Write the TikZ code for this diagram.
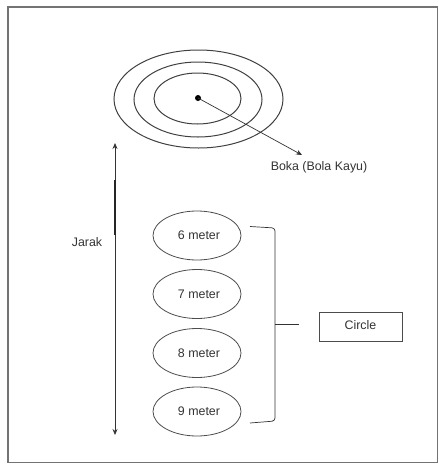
\documentclass[tikz,border=0pt]{standalone}
\usepackage{fontspec}
\setmainfont{Liberation Sans}
\usetikzlibrary{arrows.meta,shapes.geometric}
\begin{document}
\begin{tikzpicture}[x=1pt,y=-1pt,
  lbl/.style={font=\fontsize{12.4}{14}\selectfont, text=black!80, inner sep=0pt},
  ring/.style={draw=black!75, line width=1pt},
  dist/.style={ellipse, draw=black!70, line width=0.8pt, minimum width=88pt, minimum height=49pt, inner sep=0pt, font=\fontsize{12.4}{14}\selectfont, text=black!80},
  conn/.style={draw=black!80, line width=0.7pt},
  tip/.style={-{Stealth[length=6pt,width=5pt]}},
  dtip/.style={{Stealth[length=6pt,width=5pt]}-{Stealth[length=6pt,width=5pt]}}]
\useasboundingbox (0,0) rectangle (439,464);
% frame
\draw[draw=black!55, line width=1.2pt] (8,7) rectangle (437.5,462.5);
% target rings
\draw[ring] (198.5,99) ellipse [x radius=84.5pt, y radius=49pt];
\draw[ring] (198,99.5) ellipse [x radius=64pt, y radius=37.5pt];
\draw[ring] (197.5,98.5) ellipse [x radius=43.5pt, y radius=25.5pt];
\node[circle, fill=black, inner sep=0pt, minimum size=6pt] (dot) at (198,98) {};
\coordinate (bokatip) at (302,155);
\draw[conn, tip] (dot.center) -- (bokatip);
\node[lbl] (boka) at (319,167) {Boka (Bola Kayu)};
% distance arrow
\coordinate (jtop) at (115,143);
\coordinate (jbot) at (115,435);
\draw[conn, dtip] (jtop) -- (jbot);
\coordinate (jthA) at (115,180);
\coordinate (jthB) at (115,235);
\draw[draw=black!85, line width=2pt] (jthA) -- (jthB);
\node[lbl] (jarak) at (87,242) {Jarak};
% distance ellipses
\node[dist] (m6) at (197,235.5) {\hspace{4pt}6 meter};
\node[dist] (m7) at (197,294) {\hspace{4pt}7 meter};
\node[dist] (m8) at (197,353) {\hspace{4pt}8 meter};
\node[dist] (m9) at (197,411.5) {\hspace{4pt}9 meter};
% bracket
\coordinate (bt) at (250,226.5);
\coordinate (btc) at (275,228);
\coordinate (bbc) at (275,421);
\coordinate (bb) at (250,423);
\coordinate (bm) at (275,324);
\draw[conn, rounded corners=3pt] (bt) -- (btc) -- (bbc) -- (bb);
\node[draw=black!70, line width=0.8pt, minimum width=83pt, minimum height=29pt, inner sep=0pt, font=\fontsize{12.4}{14}\selectfont, text=black!80] (circ) at (360.5,326.5) {\raisebox{3pt}{Circle}};
\draw[conn] (bm) -- (299,324);
\end{tikzpicture}
\end{document}
